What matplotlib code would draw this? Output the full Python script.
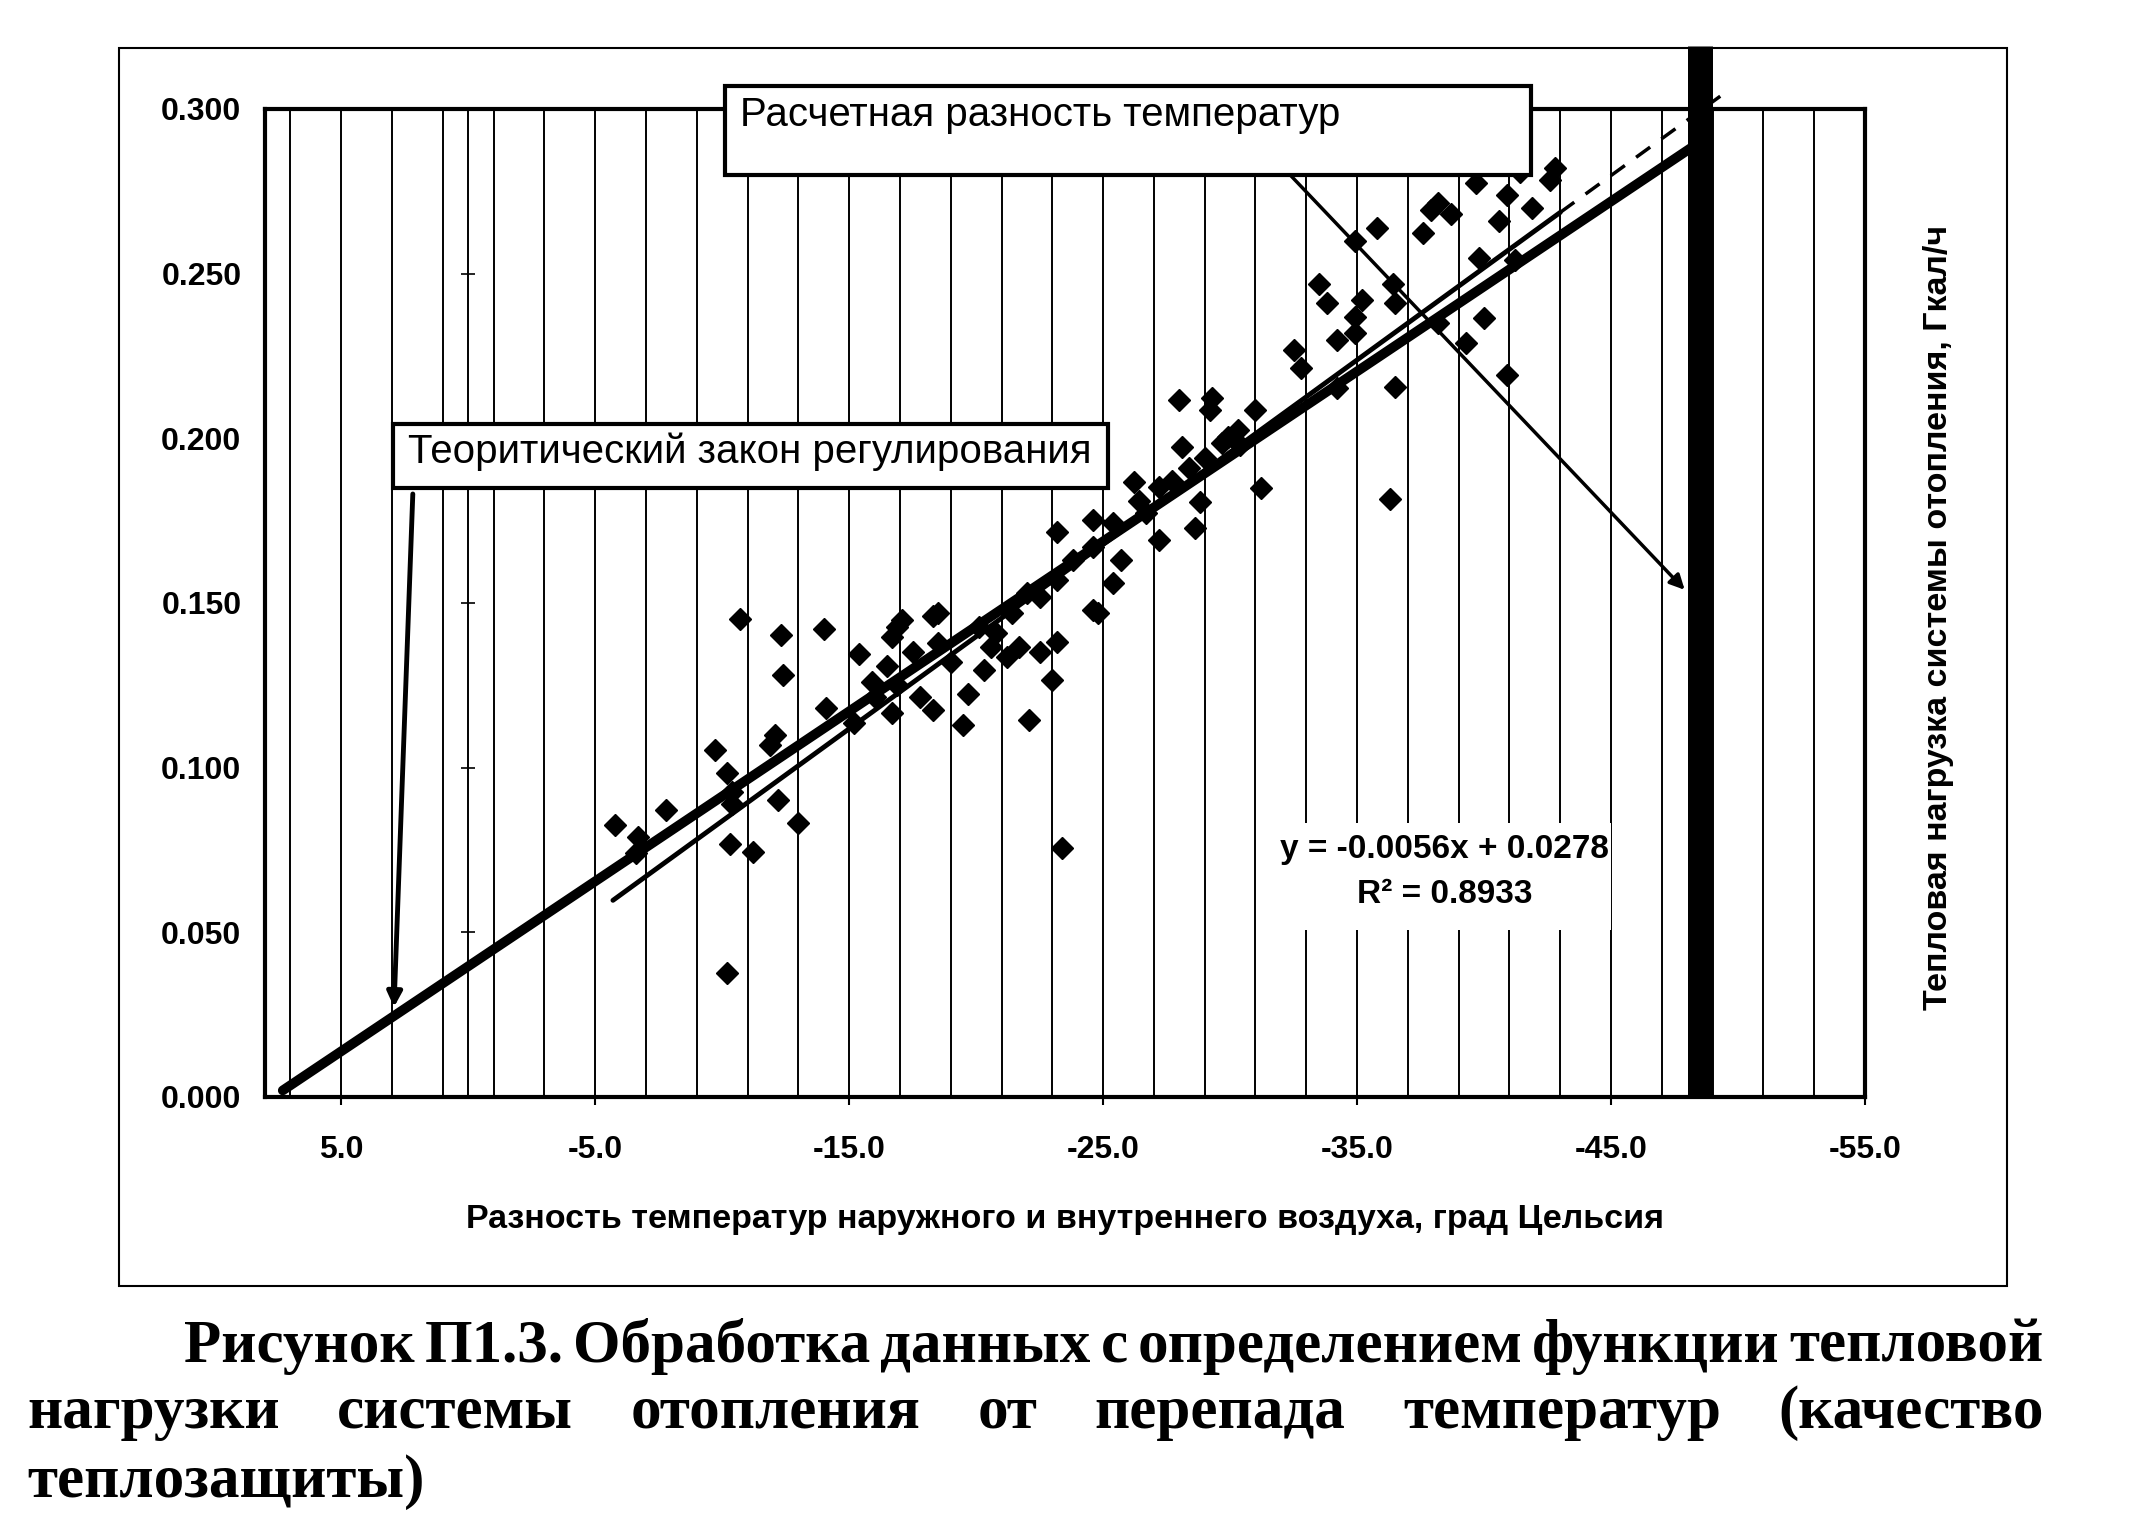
import numpy as np
import matplotlib
matplotlib.use("Agg")
import matplotlib.pyplot as plt
from matplotlib.patches import Rectangle

plt.rcParams['axes.unicode_minus'] = False
SANS = ['Liberation Sans', 'DejaVu Sans']
SERIF = ['Liberation Serif', 'DejaVu Serif']

# --- данные ---
# разность температур (x) и тепловая нагрузка, Гкал/ч (y)
obs_x = [-5.8, -6.7, -6.6, -7.8, -9.7, -10.2, -10.4, -10.4, -10.3, -10.2,
         -10.7, -11.2, -11.9, -12.1, -12.2, -12.3, -12.4, -13.0, -14.0, -14.1,
         -15.2, -15.4, -16.5, -16.9, -18.3, -16.7, -16.9, -18.3, -19.5, -19.7,
         -18.5, -16.0, -17.1, -18.5, -16.7, -17.8, -20.6, -21.7, -20.3, -22.1,
         -23.0, -23.2, -24.6, -25.4, -22.5, -23.8, -25.7, -23.2, -24.6, -25.4,
         -26.7, -27.2, -26.2, -27.2, -28.6, -28.8, -28.1, -28.0, -29.3, -29.2,
         -20.1, -21.4, -22.0, -23.2, -24.6, -26.4, -27.7, -28.4, -29.0, -29.7,
         -30.3, -22.5, -21.2, -24.8, -19.0, -20.8, -17.5, -15.9, -23.4,
         -29.9, -30.4, -31.0, -31.2, -32.5, -32.8, -33.5, -33.8, -34.2, -34.9,
         -34.9, -35.2, -36.5, -36.4, -34.2, -36.5, -36.3, -34.9, -35.8, -37.6,
         -37.9, -38.2, -38.7, -38.2, -39.3, -40.0, -40.9, -39.8, -41.2, -40.6,
         -41.9, -40.9, -39.7, -41.4, -42.6, -42.8]
obs_y = [0.0826, 0.0790, 0.0740, 0.0872, 0.1054, 0.0984, 0.0926, 0.0890, 0.0768, 0.0377,
         0.1450, 0.0744, 0.1070, 0.1100, 0.0902, 0.1403, 0.1280, 0.0832, 0.1420, 0.1180,
         0.1136, 0.1345, 0.1310, 0.1427, 0.1460, 0.1166, 0.1250, 0.1175, 0.1130, 0.1224,
         0.1380, 0.1216, 0.1448, 0.1470, 0.1397, 0.1215, 0.1366, 0.1366, 0.1297, 0.1145,
         0.1266, 0.1382, 0.1479, 0.1561, 0.1518, 0.1631, 0.1631, 0.1716, 0.1752, 0.1743,
         0.1773, 0.1852, 0.1868, 0.1691, 0.1728, 0.1807, 0.1974, 0.2117, 0.2123, 0.2086,
         0.1427, 0.1470, 0.1530, 0.1570, 0.1670, 0.1810, 0.1870, 0.1910, 0.1940, 0.1986,
         0.2025, 0.1350, 0.1336, 0.1470, 0.1320, 0.1410, 0.1350, 0.1260, 0.0755,
         0.2004, 0.1980, 0.2087, 0.1850, 0.2268, 0.2214, 0.2470, 0.2410, 0.2298, 0.2320,
         0.2369, 0.2420, 0.2410, 0.2470, 0.2153, 0.2156, 0.1815, 0.2600, 0.2640, 0.2624,
         0.2693, 0.2715, 0.2680, 0.2350, 0.2290, 0.2366, 0.2192, 0.2548, 0.2541, 0.2660,
         0.2700, 0.2740, 0.2775, 0.2810, 0.2785, 0.2820]

# теоретический закон регулирования
theory_x = [7.3, -48.5]
theory_y = [0.002, 0.290]

# линейный тренд y = -0.0056x + 0.0278 (сплошной по данным, пунктир - прогноз)
trend_k, trend_b = -0.0056, 0.0278
trend_x = [-5.7, -43.0]
forecast_x = [-43.0, -49.3]

# расчетная разность температур
design_dt = -48.5
design_top = 0.319

x_ticks = [5, -5, -15, -25, -35, -45, -55]
y_ticks = [0.0, 0.05, 0.10, 0.15, 0.20, 0.25, 0.30]
grid_x = list(range(-55, 8, 2))

W, H = 2141, 1530
fig = plt.figure(figsize=(W / 100, H / 100), dpi=100)
ax = fig.add_axes([265 / W, 1 - 1097 / H, 1600 / W, 988 / H])

ax.set_xlim(8, -55)
ax.set_ylim(0, 0.3)

for xv in grid_x:
    ax.axvline(xv, color='black', lw=1.4, zorder=1)
ax.axvline(0, color='black', lw=1.4, zorder=1)
ax.plot([0] * len(y_ticks), y_ticks, ls='none', marker='_', ms=10, mew=1.2,
        color='black', zorder=1)

# белая подложка под уравнением тренда
ax.add_patch(Rectangle((-31.9, 0.0507), -13.1, 0.0325, facecolor='white',
                       edgecolor='none', zorder=2))

ax.plot(obs_x, obs_y, ls='none', marker='D', ms=11, color='black', zorder=3)

tx = np.array(trend_x)
ax.plot(tx, trend_k * tx + trend_b, color='black', lw=3.5, zorder=4,
        solid_capstyle='round')
fx = np.array(forecast_x)
ax.plot(fx, trend_k * fx + trend_b, color='black', lw=2.5, ls=(0, (5, 4)),
        zorder=4, clip_on=False)

ax.plot(theory_x, theory_y, color='black', lw=7, zorder=5,
        solid_capstyle='round')

ax.plot([design_dt, design_dt], [0, design_top], color='black', lw=18,
        zorder=6, clip_on=False, solid_capstyle='butt')

ax.text(-38.45, 0.0753, 'y = -0.0056x + 0.0278', ha='center', va='center',
        fontsize=24, fontweight='bold', family=SANS, zorder=7)
ax.text(-38.45, 0.0616, 'R² = 0.8933', ha='center', va='center',
        fontsize=24, fontweight='bold', family=SANS, zorder=7)

ax.set_xticks(x_ticks)
ax.set_xticklabels([f'{v:.1f}' for v in x_ticks])
ax.set_yticks(y_ticks)
ax.set_yticklabels([f'{v:.3f}' for v in y_ticks])
ax.tick_params(axis='x', direction='out', length=6, width=1.5, pad=21,
               labelsize=23)
ax.tick_params(axis='y', length=0, pad=17, labelsize=23)
for lab in ax.get_xticklabels() + ax.get_yticklabels():
    lab.set_fontweight('bold')
    lab.set_family(SANS)
for sp in ax.spines.values():
    sp.set_linewidth(3)
    sp.set_zorder(8)

ax.set_xlabel('Разность температур наружного и внутреннего воздуха, град Цельсия',
              fontsize=24.5, fontweight='bold', family=SANS)
ax.xaxis.set_label_coords(0.5, -0.1235)
ax.xaxis.label.set_va('center')
ax.yaxis.set_label_position('right')
ax.set_ylabel('Тепловая нагрузка системы отопления, Гкал/ч', fontsize=24.5,
              fontweight='bold', family=SANS, rotation=90)
ax.yaxis.set_label_coords(1.046, 0.485)
ax.yaxis.label.set_va('center')

# рамка диаграммы
fig.patches.append(Rectangle((119 / W, 1 - 1286 / H), 1888 / W, 1238 / H,
                             transform=fig.transFigure, fill=False,
                             edgecolor='black', lw=1.5))

# выноски
fig.patches.append(Rectangle((725 / W, 1 - 175 / H), 806 / W, 89 / H,
                             transform=fig.transFigure, facecolor='white',
                             edgecolor='black', lw=3, zorder=9))
fig.text(740 / W, 1 - 126 / H, 'Расчетная разность температур', fontsize=29,
         family=SANS, va='baseline', zorder=10)
fig.patches.append(Rectangle((393 / W, 1 - 488 / H), 715 / W, 64 / H,
                             transform=fig.transFigure, facecolor='white',
                             edgecolor='black', lw=3, zorder=9))
fig.text(408 / W, 1 - 463 / H, 'Теоритический закон регулирования', fontsize=29,
         family=SANS, va='baseline', zorder=10)

ax.annotate('', xy=(2.92, 0.0273), xytext=(2.18, 0.1831),
            arrowprops=dict(arrowstyle='-|>', color='black', lw=3.5,
                            mutation_scale=22, shrinkA=0, shrinkB=0),
            zorder=9, annotation_clip=False)
ax.annotate('', xy=(-47.9, 0.154), xytext=(-32.4, 0.2797),
            arrowprops=dict(arrowstyle='-|>', color='black', lw=2.5,
                            mutation_scale=22, shrinkA=0, shrinkB=0),
            zorder=9, annotation_clip=False)


def justify(words, x0, x1, y, **kw):
    r = fig.canvas.get_renderer()
    texts = [fig.text(0, y, w, ha='left', va='baseline', **kw) for w in words]
    widths = [t.get_window_extent(r).width / fig.bbox.width for t in texts]
    gap = (x1 - x0 - sum(widths)) / (len(words) - 1)
    x = x0
    for t, w in zip(texts, widths):
        t.set_x(x)
        x += w + gap


cap = dict(fontsize=44, fontweight='bold', family=SERIF)
justify('Рисунок П1.3.  Обработка данных с определением функции тепловой'.split(),
        184 / W, 2044 / W, 1 - 1362 / H, **cap)
justify('нагрузки системы отопления от перепада температур (качество'.split(),
        27 / W, 2044 / W, 1 - 1428 / H, **cap)
fig.text(27 / W, 1 - 1497 / H, 'теплозащиты)', ha='left', va='baseline', **cap)

fig.savefig('out.png', dpi=100)
